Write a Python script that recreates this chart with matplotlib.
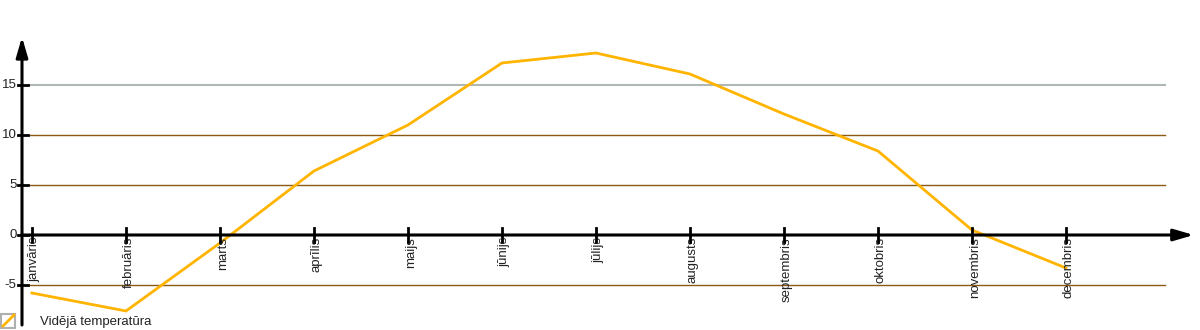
import matplotlib
matplotlib.use("Agg")
import matplotlib.pyplot as plt
from matplotlib.lines import Line2D
from matplotlib.patches import Rectangle

months = ["janvāris", "februāris", "marts", "aprīlis", "maijs", "jūnijs",
          "jūlijs", "augusts", "septembris", "oktobris", "novembris", "decembris"]
temps = [-5.8, -7.6, -0.8, 6.4, 11.0, 17.2, 18.2, 16.1, 12.1, 8.4, 0.5, -3.3]
yticks = [-5, 0, 5, 10, 15]
legend_label = "Vidējā temperatūra"

plt.rcParams['font.family'] = ['Liberation Sans', 'DejaVu Sans']

fig = plt.figure(figsize=(12, 3.3), dpi=100)
ax = fig.add_axes([0, 0, 1, 1])
ax.set_xlim(-0.34, 12.426)
ax.set_ylim(-9.5, 23.5)
ax.axis('off')

x = list(range(len(months)))
# gridlines
for v in yticks:
    if v in (0, 15):
        col, lw = '#b0b8b4', 1.5
    else:
        col, lw = '#8b5a14', 1.0
    ax.plot([-0.02, 12.05], [v, v], color=col, lw=lw, zorder=1)

# data line
ax.plot(x, temps, color='#ffb400', lw=2, zorder=3, solid_joinstyle='miter')

# x axis with arrow
ax.annotate('', xy=(12.36, 0), xytext=(-0.11, 0),
            arrowprops=dict(arrowstyle='-|>,head_length=1.2,head_width=0.35', color='black', lw=2.2,
                            shrinkA=0, shrinkB=0), zorder=4)
# y axis with arrow
ax.annotate('', xy=(-0.106, 19.8), xytext=(-0.106, -9.0),
            arrowprops=dict(arrowstyle='-|>,head_length=1.2,head_width=0.35', color='black', lw=2.2,
                            shrinkA=0, shrinkB=0), zorder=4)

# y ticks & labels
for v in yticks:
    ax.plot([-0.149, -0.04], [v, v], color='black', lw=2, zorder=5)
    ax.text(-0.165, v, str(v), ha='right', va='center', fontsize=9.5, color='#222222')

# x ticks & labels
for i, m in enumerate(months):
    ax.plot([i, i], [-0.7, 0.7], color='black', lw=2, zorder=5)
    ax.text(i + 0.03, -0.2, m, rotation=90, ha='center', va='top', fontsize=9.5,
            color='#222222')

# legend
fig.patches.append(Rectangle((1 / 1200, 2 / 330), 14 / 1200, 14 / 330,
                             transform=fig.transFigure, fill=False,
                             edgecolor='#b0b0b0', lw=1.5))
fig.lines.append(Line2D([3 / 1200, 14 / 1200], [4 / 330, 15 / 330],
                        transform=fig.transFigure, color='#ffb400', lw=2))
fig.text(40 / 1200, 8 / 330, legend_label, ha='left', va='center', fontsize=9.5, color='#222222')

fig.savefig('out.png', dpi=100)
